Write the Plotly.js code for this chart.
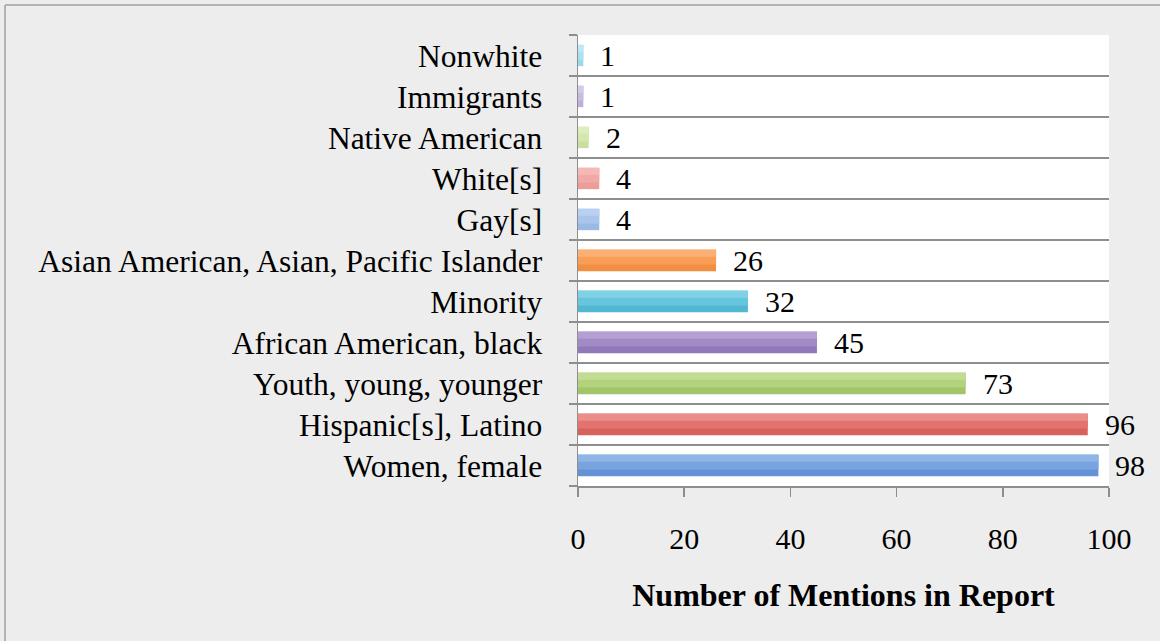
<!DOCTYPE html>
<html>
<head>
<meta charset="utf-8">
<script src="https://cdn.plot.ly/plotly-3.0.1.min.js"></script>
<style>
html,body{margin:0;padding:0;background:#ededed;}
#chart{width:1160px;height:641px;}
</style>
</head>
<body>
<div id="chart"></div>
<script>
// Data (bottom to top)
var categories = ["Women, female", "Hispanic[s], Latino", "Youth, young, younger", "African American, black", "Minority", "Asian American, Asian, Pacific Islander", "Gay[s]", "White[s]", "Native American", "Immigrants", "Nonwhite"];
var mentions = [98, 96, 73, 45, 32, 26, 4, 4, 2, 1, 1];
// gradient tones per bar (top light -> bottom dark)
var colorsLight = ["#8fb4e6", "#eb8d8a", "#c3dc93", "#b39fd2", "#80d1e6", "#fab075", "#b8d0f1", "#f4b9b7", "#ddedbe", "#d4c9e9", "#bce9f4"];
var colorsMid   = ["#78a3df", "#e3736f", "#b2d27c", "#a28ac6", "#66c6de", "#f89e56", "#a9c5ee", "#f1a9a7", "#d3e8ad", "#c9bce3", "#a9e2f0"];
var colorsDark  = ["#6592d4", "#d9615d", "#a3c56a", "#9178b8", "#53b7d1", "#f28e42", "#9bb9e6", "#eb9d9a", "#c8df9f", "#bdaedb", "#98d9ea"];
var xTickVals = [0, 20, 40, 60, 80, 100];
var xTitle = "Number of Mentions in Report";

var serif = "Liberation Serif, Times New Roman, serif";
var grid = "#8e8e8e";

function band(colors, w, off) {
  return {
    type: "bar", orientation: "h",
    x: mentions, y: categories,
    marker: {color: colors, line: {width: 0}},
    width: w, offset: off,
    hoverinfo: "skip"
  };
}
var traces = [
  band(colorsDark, 0.52, -0.26),
  band(colorsMid, 0.36, -0.10),
  band(colorsLight, 0.17, 0.09)
];

var annotations = mentions.map(function(v, i) {
  return {
    x: v, y: categories[i], xref: "x", yref: "y",
    text: String(v), showarrow: false, xanchor: "left", yanchor: "middle",
    xshift: 15, font: {family: serif, size: 30, color: "#000"}
  };
});

var L = 578, R = 1109, T = 35, B = 486;
var pw = R - L, ph = B - T;
function px(x) { return (x - L) / pw; }
function py(y) { return (B - y) / ph; }

var shapes = [
  {type: "line", xref: "paper", yref: "paper", x0: px(5), x1: px(5), y0: py(5), y1: py(700), line: {color: "#b3b3b3", width: 2}},
  {type: "line", xref: "paper", yref: "paper", x0: px(5), x1: px(1200), y0: py(5), y1: py(5), line: {color: "#b3b3b3", width: 2}}
];

var layout = {
  width: 1160, height: 641,
  paper_bgcolor: "#ededed",
  plot_bgcolor: "#ffffff",
  barmode: "overlay",
  margin: {l: L, r: 1160 - R, t: T, b: 641 - B, pad: 0},
  showlegend: false,
  font: {family: serif, size: 30, color: "#000"},
  xaxis: {
    range: [0, 100],
    tickvals: xTickVals,
    ticks: "outside", ticklen: 9, tickcolor: grid, tickwidth: 1.5,
    showline: true, linecolor: grid, linewidth: 1.5,
    showgrid: false, zeroline: false,
    tickfont: {family: serif, size: 30, color: "#000"},
    ticklabelstandoff: 16,
    title: {text: xTitle, font: {family: serif, size: 32, color: "#000", weight: "bold"}, standoff: 30},
    fixedrange: true
  },
  yaxis: {
    type: "category",
    categoryorder: "array", categoryarray: categories,
    range: [-0.5, 10.5],
    tickson: "boundaries",
    ticks: "outside", ticklen: 8, tickcolor: grid, tickwidth: 1.5,
    showline: true, linecolor: grid, linewidth: 1.5,
    showgrid: true, gridcolor: grid, gridwidth: 1.5,
    zeroline: false,
    tickfont: {family: serif, size: 31.5, color: "#000"},
    ticklabelstandoff: 28,
    automargin: false,
    fixedrange: true
  },
  annotations: annotations,
  shapes: shapes
};

Plotly.newPlot("chart", traces, layout, {displayModeBar: false, staticPlot: true});
</script>
</body>
</html>
